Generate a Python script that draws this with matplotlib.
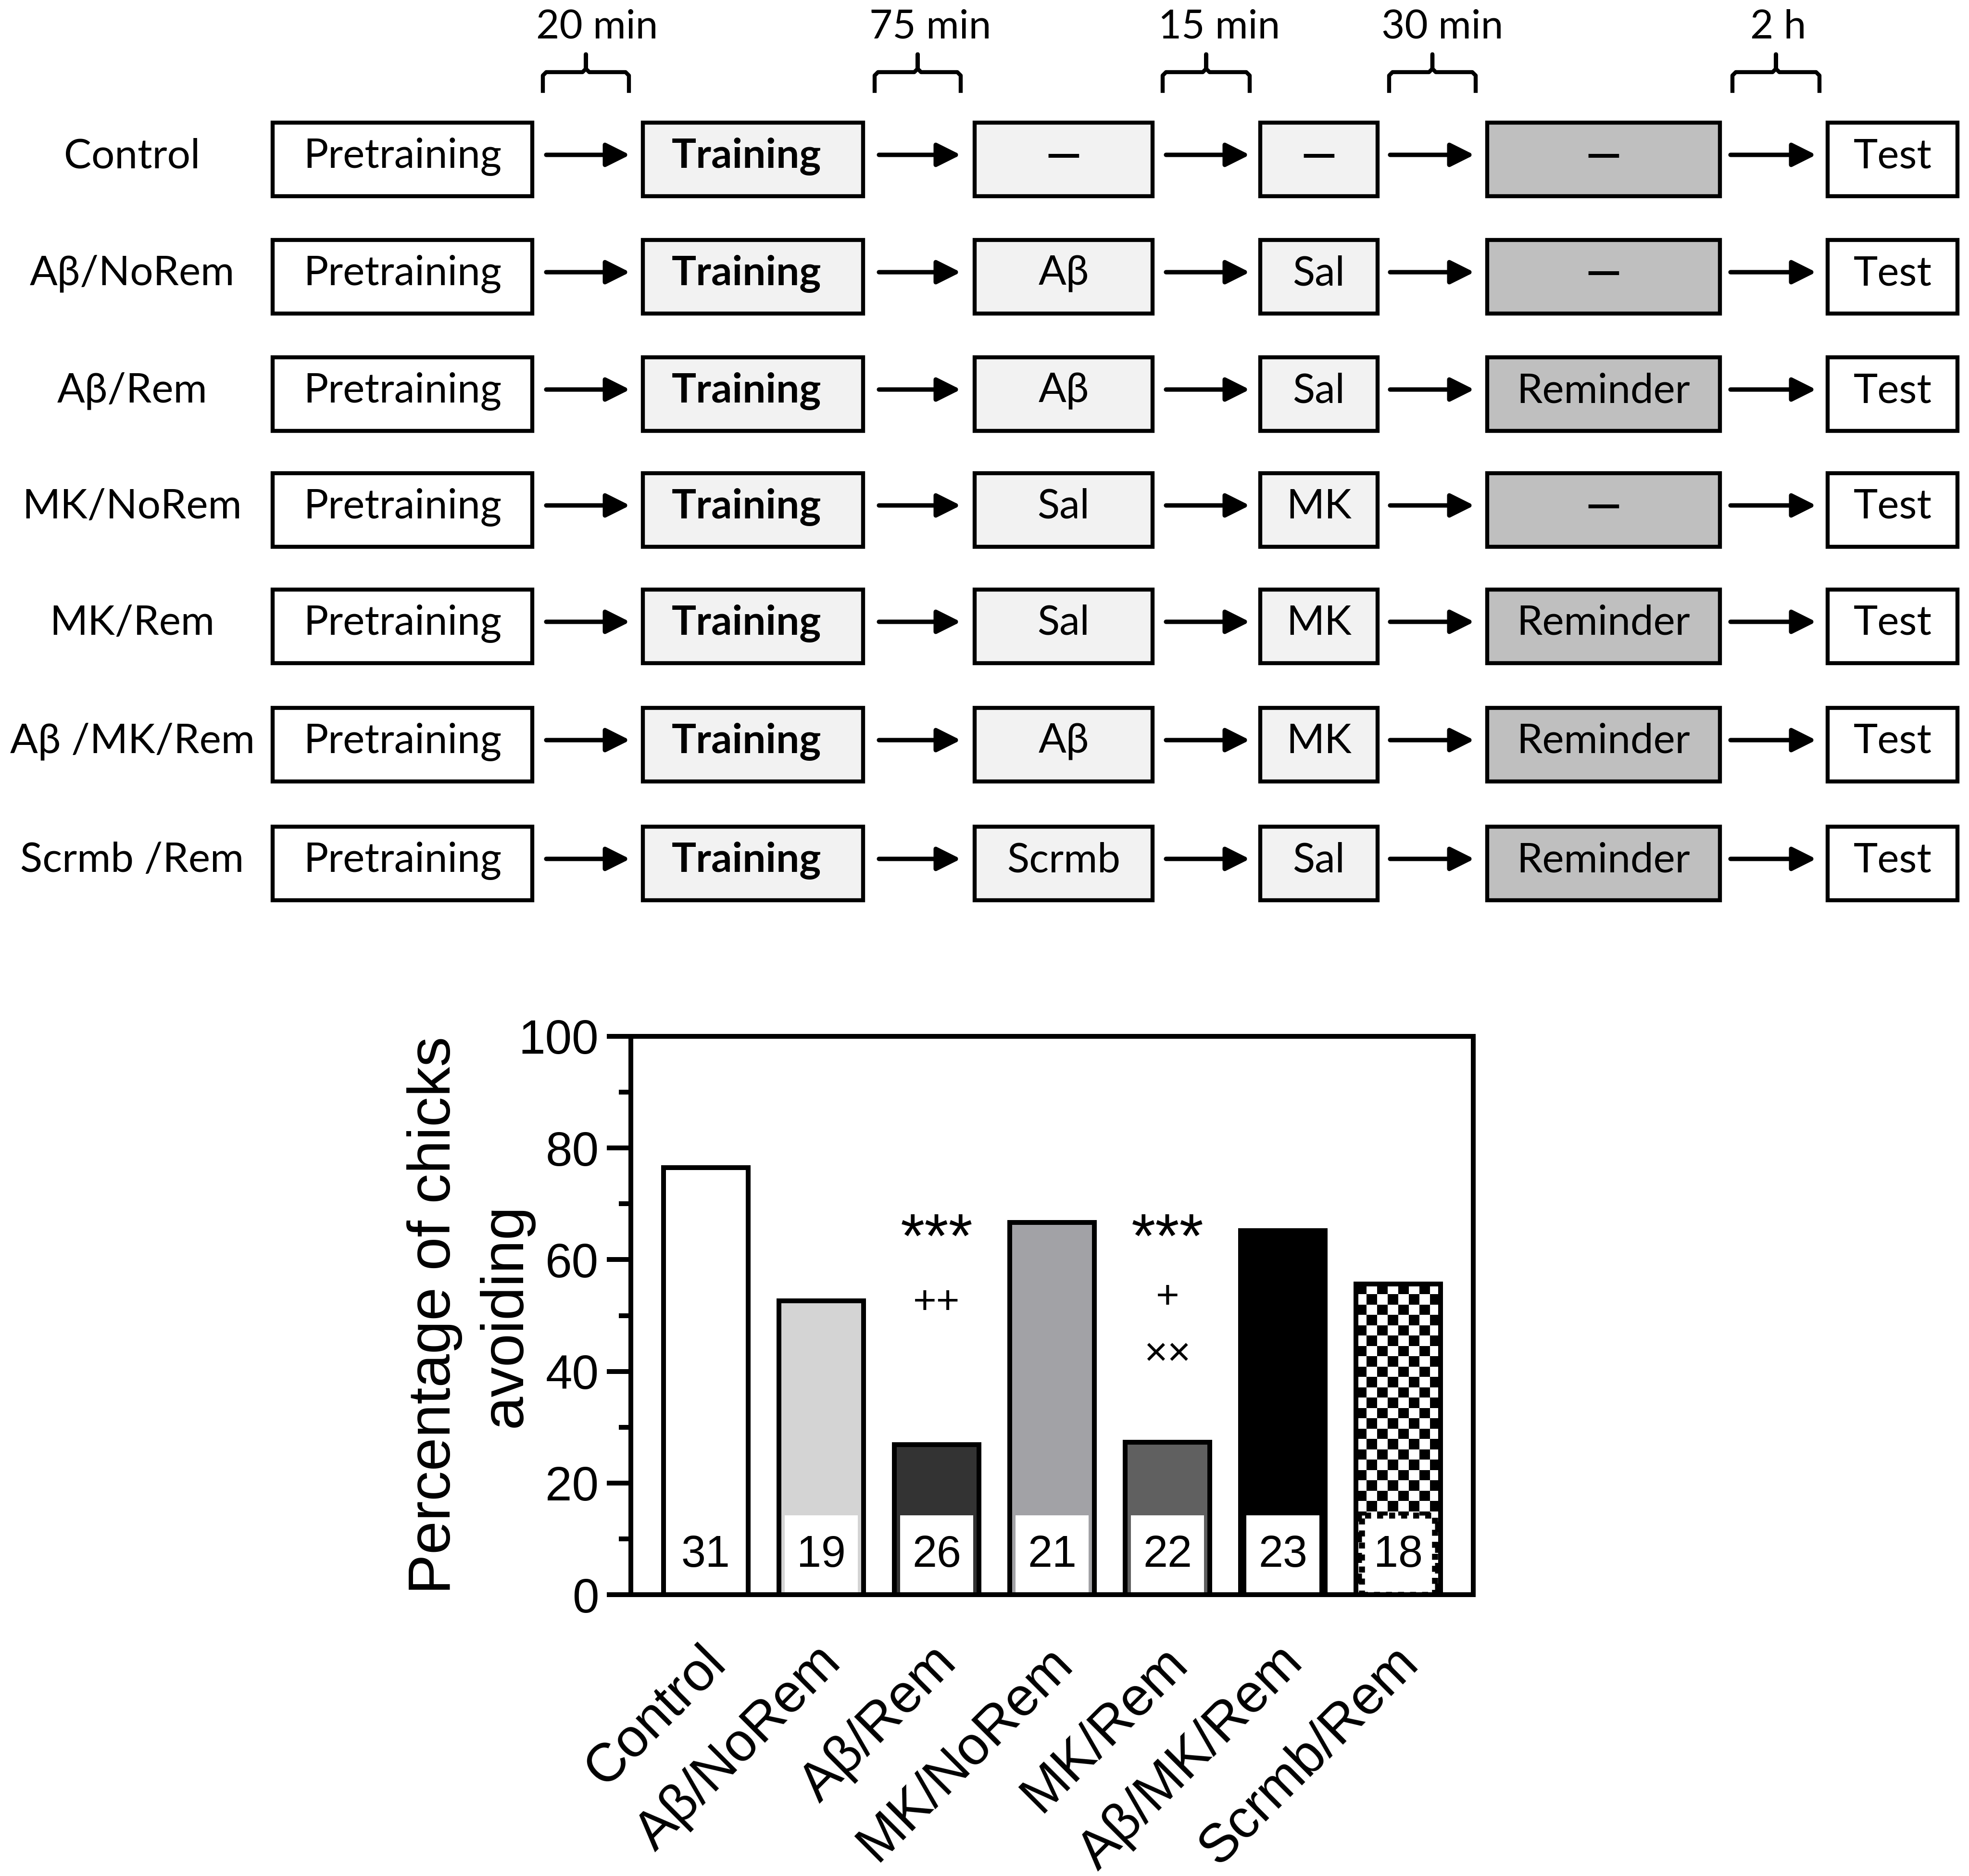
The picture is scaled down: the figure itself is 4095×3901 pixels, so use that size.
import numpy as np
import matplotlib
matplotlib.use('Agg')
import matplotlib.pyplot as plt
from matplotlib.patches import Rectangle
from matplotlib.transforms import ScaledTranslation

# ---------------- data ----------------
row_labels = ['Control', 'Aβ/NoRem', 'Aβ/Rem', 'MK/NoRem', 'MK/Rem', 'Aβ /MK/Rem', 'Scrmb /Rem']
step1 = ['Pretraining'] * 7
step2 = ['Training'] * 7
step3 = ['—', 'Aβ', 'Aβ', 'Sal', 'Sal', 'Aβ', 'Scrmb']
step4 = ['—', 'Sal', 'Sal', 'MK', 'MK', 'MK', 'Sal']
step5 = ['—', '—', 'Reminder', '—', 'Reminder', 'Reminder', 'Reminder']
step6 = ['Test'] * 7
intervals = ['20 min', '75 min', '15 min', '30 min', '2 h']

groups = ['Control', 'Aβ/NoRem', 'Aβ/Rem', 'MK/NoRem', 'MK/Rem', 'Aβ/MK/Rem', 'Scrmb/Rem']
pct = [76.5, 52.6, 26.9, 66.7, 27.3, 65.2, 55.6]
n_chicks = [31, 19, 26, 21, 22, 23, 18]
bar_colors = ['#ffffff', '#d4d4d4', '#333333', '#a2a2a6', '#606060', '#000000', 'checker']
sig_bar = [2, 2, 4, 4, 4]
sig_label = ['***', '++', '***', '+', '××']

# ---------------- layout ----------------
W, H = 4095, 3901
DPI = 300
DIAG_FONT = ['Lato', 'Open Sans', 'DejaVu Sans']
CHART_FONT = ['Liberation Sans', 'DejaVu Sans']

fig = plt.figure(figsize=(W / DPI, H / DPI), dpi=DPI)
fig.patch.set_facecolor('white')

ax0 = fig.add_axes([0, 0, 1, 1])
ax0.set_xlim(0, W)
ax0.set_ylim(H, 0)
ax0.axis('off')

row_y = [331, 575, 819, 1060, 1302, 1548, 1795]
box_x = [(567, 1107), (1337, 1795), (2027, 2397), (2621, 2865), (3093, 3577), (3801, 4071)]
box_fill = ['white', '#f2f2f2', '#f2f2f2', '#f2f2f2', '#bfbfbf', 'white']
text_dx = [0, -14, 0, 0, 0, 0]
arrow_x = [(1136, 1310), (1828, 1998), (2425, 2599), (2891, 3066), (3599, 3777)]
bracket_x = [(1129, 1308), (1819, 1998), (2418, 2599), (2889, 3069), (3603, 3784)]
interval_tx = [1242, 1935, 2536, 3000, 3698]
box_h = 153
fs_diag = 20.5

steps = [step1, step2, step3, step4, step5, step6]
for r, y in enumerate(row_y):
    ax0.text(275, y - 6, row_labels[r], ha='center', va='center',
             fontsize=fs_diag, family=DIAG_FONT)
    for c, (x0, x1) in enumerate(box_x):
        ax0.add_patch(Rectangle((x0, y - box_h / 2), x1 - x0, box_h,
                                facecolor=box_fill[c], edgecolor='black', lw=2.0))
        label = steps[c][r]
        bold = (c == 1) or (label == '—')
        ax0.text((x0 + x1) / 2 + text_dx[c], y - 6, label, ha='center', va='center',
                 fontsize=fs_diag + (2 if label == '—' else 0), family=DIAG_FONT,
                 fontweight='bold' if bold else 'normal')
    for (x0, x1) in arrow_x:
        ax0.annotate('', xy=(x1, y - 9), xytext=(x0, y - 9),
                     arrowprops=dict(arrowstyle='-|>', color='black', lw=2.2,
                                     mutation_scale=25, shrinkA=0, shrinkB=0))

for (x0, x1), tx, lab in zip(bracket_x, interval_tx, intervals):
    xc = (x0 + x1) / 2
    xs = [x0, x0, x0 + 7, xc - 7, xc, xc, xc, xc + 7, x1 - 7, x1, x1]
    ys = [189, 157, 150, 150, 143, 113, 143, 150, 150, 157, 189]
    ax0.plot(xs, ys, color='black', lw=2.0, solid_joinstyle='round')
    ax0.text(tx, 57, lab, ha='center', va='center', fontsize=20, family=DIAG_FONT)

# ---------------- bar chart ----------------
ax = fig.add_axes([1312 / W, 1 - 3316 / H, 1752 / W, 1161 / H])
x = np.arange(len(groups))
bw = 0.73
face = ['white' if c == 'checker' else c for c in bar_colors]
bars = ax.bar(x, pct, width=bw, color=face, edgecolor='none', zorder=2)

for i, c in enumerate(bar_colors):
    if c == 'checker':
        b = bars[i]
        x0, w, h = b.get_x(), b.get_width(), b.get_height()
        ncol = 8
        cell_y = 1.85
        nrow = int(np.ceil(h / cell_y))
        arr = np.indices((nrow, ncol)).sum(axis=0) % 2
        im = ax.imshow(arr[::-1], cmap='gray', vmin=0, vmax=1, interpolation='nearest',
                       extent=(x0, x0 + w, h - nrow * cell_y, h), aspect='auto',
                       zorder=2.2)
        im.set_clip_path(b)

box_w = 0.63
box_top = 14.2
for i in range(len(groups)):
    dashed = bar_colors[i] == 'checker'
    ax.add_patch(Rectangle((x[i] - box_w / 2, 0), box_w, box_top,
                           facecolor='white',
                           edgecolor='black' if dashed else 'none',
                           lw=3.0 if dashed else 0,
                           linestyle=(0, (1.0, 1.0)) if dashed else '-',
                           zorder=3))
    ax.text(x[i], 5.0, str(n_chicks[i]), ha='center', va='baseline',
            fontsize=22, family=CHART_FONT, zorder=5)

ax.bar(x, pct, width=bw, fill=False, edgecolor='black', linewidth=2.4, zorder=4)

sig_y = [63.3, 52.3, 63.3, 53.2, 43.0]
for b, lab, yy in zip(sig_bar, sig_label, sig_y):
    ax.text(x[b], yy, lab, ha='center', va='center', family=CHART_FONT,
            fontsize=31 if lab == '***' else 20, zorder=5)

ax.set_xlim(-0.65, 6.65)
ax.set_ylim(0, 100)
ax.set_yticks(np.arange(0, 101, 20))
ax.set_yticks(np.arange(10, 100, 20), minor=True)
ax.set_xticks(x)
ax.set_xticklabels(groups, rotation=45, ha='right', va='top', rotation_mode='anchor',
                   family=CHART_FONT, fontsize=27)
for lbl in ax.get_yticklabels():
    lbl.set_family(CHART_FONT)
ax.tick_params(axis='y', which='major', length=12, width=2.4, labelsize=24, pad=4)
ax.tick_params(axis='y', which='minor', length=6, width=2.4)
ax.tick_params(axis='x', length=0, pad=21)
offset = ScaledTranslation(-3 / 72, 0, fig.dpi_scale_trans)
for lbl in ax.get_xticklabels():
    lbl.set_transform(lbl.get_transform() + offset)
for s in ax.spines.values():
    s.set_linewidth(2.4)
ax.set_ylabel('Percentage of chicks', fontsize=30, family=CHART_FONT)
ax.yaxis.set_label_coords(-0.200, 0.5)
ax.text(-0.1153, 0.5, 'avoiding', rotation=90, rotation_mode='anchor',
        ha='center', va='bottom', fontsize=30, family=CHART_FONT,
        transform=ax.transAxes)

fig.savefig('out.png', dpi=DPI, facecolor='white')
